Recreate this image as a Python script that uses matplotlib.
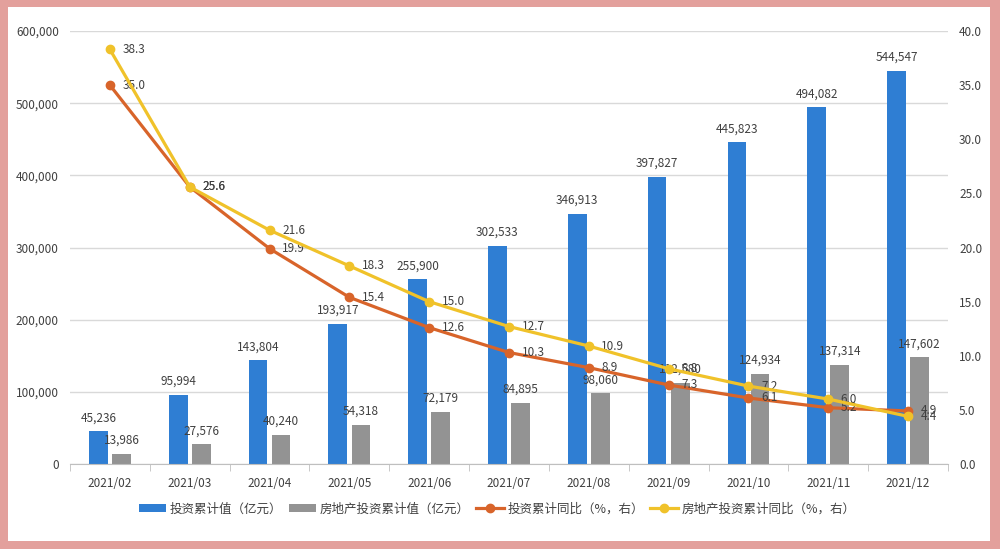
import matplotlib.pyplot as plt
from matplotlib.patches import Rectangle
from matplotlib.ticker import FuncFormatter, MultipleLocator
import numpy as np

plt.rcParams['font.family'] = ['Noto Sans CJK SC', 'DejaVu Sans']

# 数据
months = ['2021/02', '2021/03', '2021/04', '2021/05', '2021/06', '2021/07',
          '2021/08', '2021/09', '2021/10', '2021/11', '2021/12']
invest_total = [45236, 95994, 143804, 193917, 255900, 302533, 346913, 397827, 445823, 494082, 544547]
estate_total = [13986, 27576, 40240, 54318, 72179, 84895, 98060, 112580, 124934, 137314, 147602]
invest_yoy = [35.0, 25.6, 19.9, 15.4, 12.6, 10.3, 8.9, 7.3, 6.1, 5.2, 4.9]
estate_yoy = [38.3, 25.6, 21.6, 18.3, 15.0, 12.7, 10.9, 8.8, 7.2, 6.0, 4.4]

blue = '#2F7ED3'
gray = '#939393'
orange = '#D8642A'
yellow = '#F0C22A'
txt = '#404040'

fig = plt.figure(figsize=(10, 5.49), dpi=100)
fig.patch.set_facecolor('#E3A09C')
fig.add_artist(Rectangle((0.008, 0.014), 0.982, 0.973, transform=fig.transFigure,
                         facecolor='white', edgecolor='none', zorder=-5))

ax = fig.add_axes([0.07, 0.1548, 0.878, 0.7887])
ax.set_facecolor('none')
x = np.arange(len(months))
w = 0.235
off = 0.145

b1 = ax.bar(x - off, invest_total, w, color=blue, label='投资累计值（亿元）', zorder=2)
b2 = ax.bar(x + off, estate_total, w, color=gray, label='房地产投资累计值（亿元）', zorder=2)
for rect, v in zip(b1, invest_total):
    ax.annotate(f'{v:,}', (rect.get_x() + rect.get_width() / 2, v), xytext=(0, 5),
                textcoords='offset points', ha='center', va='bottom', fontsize=8.5, color=txt)
for rect, v in zip(b2, estate_total):
    ax.annotate(f'{v:,}', (rect.get_x() + rect.get_width() / 2, v), xytext=(0, 5),
                textcoords='offset points', ha='center', va='bottom', fontsize=8.5, color=txt)

ax.set_ylim(0, 600000)
ax.set_xlim(-0.5, len(months) - 0.5)
ax.yaxis.set_major_locator(MultipleLocator(100000))
ax.yaxis.set_major_formatter(FuncFormatter(lambda v, p: f'{int(v):,}'))
ax.grid(axis='y', color='#D9D9D9', linewidth=1, zorder=0)
ax.set_xticks(x)
ax.set_xticklabels(months)
ax.set_xticks(np.arange(-0.5, len(months)), minor=True)
ax.tick_params(axis='x', which='major', length=0, pad=9, labelsize=8.5, labelcolor=txt)
ax.tick_params(axis='x', which='minor', length=5, color='#BFBFBF')
ax.tick_params(axis='y', length=0, pad=8, labelsize=8.5, labelcolor=txt)
for s in ['top', 'right', 'left']:
    ax.spines[s].set_visible(False)
ax.spines['bottom'].set_color('#BFBFBF')

ax2 = ax.twinx()
l1, = ax2.plot(x, invest_yoy, color=orange, lw=2.3, marker='o', ms=6,
               label='投资累计同比（%，右）', zorder=3)
l2, = ax2.plot(x, estate_yoy, color=yellow, lw=2.3, marker='o', ms=6,
               label='房地产投资累计同比（%，右）', zorder=4)
for xi, v in zip(x, invest_yoy):
    ax2.annotate(f'{v:.1f}', (xi, v), xytext=(9, 0), textcoords='offset points',
                 ha='left', va='center', fontsize=8.5, color=txt)
for xi, v in zip(x, estate_yoy):
    ax2.annotate(f'{v:.1f}', (xi, v), xytext=(9, 0), textcoords='offset points',
                 ha='left', va='center', fontsize=8.5, color=txt)
ax2.set_ylim(0, 40)
ax2.yaxis.set_major_locator(MultipleLocator(5))
ax2.yaxis.set_major_formatter(FuncFormatter(lambda v, p: f'{v:.1f}'))
ax2.tick_params(axis='y', length=0, pad=8, labelsize=8.5, labelcolor=txt)
for s in ax2.spines.values():
    s.set_visible(False)

fig.legend(handles=[b1, b2, l1, l2], loc='center', bbox_to_anchor=(0.497, 0.073), ncol=4,
           frameon=False, fontsize=9, handlelength=2.2, handleheight=0.5,
           columnspacing=0.5, handletextpad=0.3, labelcolor=txt)

fig.savefig('out.png', dpi=100, facecolor=fig.get_facecolor())
